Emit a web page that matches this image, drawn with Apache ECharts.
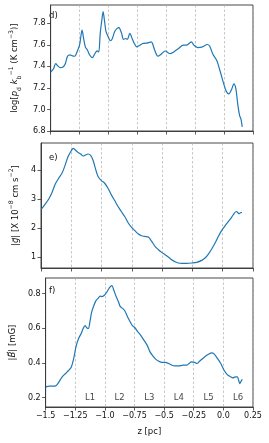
<!DOCTYPE html>
<html><head><meta charset="utf-8">
<script src="https://cdn.jsdelivr.net/npm/echarts@6/dist/echarts.min.js"></script>
<style>html,body{margin:0;padding:0;background:#fff}#c{width:269px;height:443px}</style>
</head><body><div id="c"></div>
<script>
// ---- data ----
const zP = [-1.5,-1.475,-1.456,-1.437,-1.415,-1.393,-1.373,-1.354,-1.332,-1.31,-1.291,-1.272,-1.25,-1.239,-1.228,-1.217,-1.2,-1.181,-1.161,-1.139,-1.117,-1.098,-1.084,-1.071,-1.057,-1.046,-1.035,-1.021,-1.002,-0.983,-0.966,-0.947,-0.925,-0.908,-0.897,-0.886,-0.87,-0.85,-0.837,-0.815,-0.795,-0.776,-0.754,-0.727,-0.699,-0.658,-0.63,-0.619,-0.6,-0.572,-0.545,-0.509,-0.482,-0.462,-0.435,-0.394,-0.352,-0.325,-0.297,-0.283,-0.261,-0.228,-0.187,-0.146,-0.124,-0.097,-0.064,-0.036,-0.003,0.019,0.041,0.063,0.085,0.102,0.118,0.135,0.146,0.157];
const logP = [7.347,7.378,7.425,7.403,7.388,7.394,7.425,7.494,7.506,7.497,7.494,7.534,7.597,7.675,7.738,7.675,7.581,7.55,7.503,7.481,7.519,7.544,7.534,7.706,7.831,7.909,7.831,7.722,7.675,7.638,7.659,7.722,7.753,7.759,7.738,7.706,7.65,7.659,7.65,7.706,7.659,7.613,7.581,7.597,7.613,7.619,7.628,7.612,7.55,7.494,7.512,7.543,7.525,7.519,7.534,7.566,7.597,7.597,7.618,7.628,7.597,7.575,7.581,7.603,7.587,7.512,7.456,7.362,7.238,7.168,7.144,7.181,7.238,7.191,7.05,6.94,6.91,6.838];

const zG = [-1.497,-1.47,-1.437,-1.409,-1.382,-1.354,-1.327,-1.305,-1.277,-1.25,-1.233,-1.217,-1.195,-1.172,-1.153,-1.134,-1.112,-1.09,-1.071,-1.051,-1.029,-1.002,-0.974,-0.947,-0.919,-0.892,-0.864,-0.837,-0.809,-0.782,-0.754,-0.727,-0.699,-0.671,-0.644,-0.614,-0.586,-0.559,-0.531,-0.504,-0.476,-0.449,-0.421,-0.394,-0.366,-0.338,-0.297,-0.256,-0.215,-0.173,-0.146,-0.118,-0.091,-0.063,-0.036,-0.008,0.019,0.047,0.074,0.096,0.113,0.124,0.135,0.151,0.159];
const gMag = [2.648,2.797,2.992,3.221,3.519,3.714,3.885,4.115,4.458,4.664,4.745,4.687,4.607,4.55,4.481,4.515,4.55,4.504,4.344,4.057,3.771,3.633,3.542,3.37,3.141,2.946,2.74,2.568,2.396,2.19,2.03,1.915,1.801,1.732,1.709,1.686,1.537,1.365,1.251,1.159,1.079,1.0,0.907,0.838,0.793,0.781,0.781,0.793,0.816,0.884,0.965,1.102,1.274,1.48,1.709,1.915,2.076,2.225,2.373,2.511,2.568,2.534,2.488,2.534,2.53];

const zB = [-1.497,-1.47,-1.442,-1.415,-1.387,-1.36,-1.332,-1.305,-1.283,-1.263,-1.244,-1.222,-1.2,-1.183,-1.167,-1.153,-1.139,-1.126,-1.112,-1.093,-1.076,-1.057,-1.04,-1.024,-1.002,-0.98,-0.961,-0.941,-0.925,-0.905,-0.886,-0.87,-0.85,-0.831,-0.809,-0.787,-0.768,-0.746,-0.727,-0.699,-0.671,-0.644,-0.619,-0.6,-0.572,-0.545,-0.518,-0.49,-0.462,-0.435,-0.407,-0.38,-0.338,-0.311,-0.289,-0.27,-0.242,-0.223,-0.201,-0.173,-0.146,-0.118,-0.102,-0.077,-0.05,-0.022,0.006,0.033,0.061,0.08,0.102,0.118,0.129,0.138,0.149,0.159];
const bMag = [0.262,0.266,0.266,0.268,0.291,0.32,0.339,0.358,0.377,0.426,0.493,0.541,0.57,0.599,0.615,0.603,0.599,0.638,0.692,0.731,0.758,0.773,0.785,0.783,0.792,0.812,0.835,0.846,0.821,0.783,0.754,0.725,0.715,0.7,0.667,0.638,0.615,0.603,0.584,0.561,0.532,0.503,0.464,0.445,0.422,0.41,0.403,0.403,0.397,0.387,0.383,0.383,0.387,0.387,0.397,0.406,0.403,0.397,0.41,0.426,0.441,0.453,0.458,0.451,0.426,0.397,0.358,0.333,0.32,0.314,0.32,0.32,0.3,0.281,0.294,0.306];

const xTicks = [-1.5,-1.25,-1.0,-0.75,-0.5,-0.25,0.0,0.25];
const xTickLabels = ['\u22121.5','\u22121.25','\u22121.0','\u22120.75','\u22120.5','\u22120.25','0.0','0.25'];
const yTicksP = [6.8,7.0,7.2,7.4,7.6,7.8];
const yTicksG = [1,2,3,4];
const yTicksB = [0.2,0.4,0.6,0.8];
const regionZ = [-1.125,-0.875,-0.625,-0.375,-0.125,0.125];
const regionNames = ['L1','L2','L3','L4','L5','L6'];
const regionY = 0.2;
const panelNames = ['d)','e)','f)'];

// ---- chart ----
const FONT = 'DejaVu Sans';
const AX = '#333';
const LINE = '#1f77b4';
const grids = [
  {left:41, right:16, top:5, height:126},
  {left:41, right:16, top:143, height:125},
  {left:41, right:16, top:278, height:129}
].map(g => Object.assign(g, {show:true, borderColor:AX, borderWidth:0.9, backgroundColor:'transparent'}));

function xAxis(i){
  return {
    type:'value', gridIndex:i, min:-1.5, max:0.25, interval:0.25,
    axisLine:{show:true, onZero:false, lineStyle:{color:AX, width:0.9}},
    axisTick:{show:true, length:3.5, lineStyle:{color:AX, width:0.8}},
    axisLabel:{show:i===2, margin:5, fontSize:8, color:'#111', fontFamily:FONT,
      formatter:v=>{const k=xTicks.findIndex(t=>Math.abs(t-v)<1e-6);return k>=0?xTickLabels[k]:'';},
      showMinLabel:true, showMaxLabel:true},
    splitLine:{show:true, lineStyle:{color:'#b0b0b0', type:[2.5,2], width:0.7}},
    name: i===2 ? 'z [pc]' : '', nameLocation:'middle', nameGap:20,
    nameTextStyle:{fontSize:8.5, color:'#111', fontFamily:FONT}
  };
}
const rich = {
  t:{fontSize:8.5, fontFamily:FONT, color:'#111', lineHeight:14, verticalAlign:'middle'},
  i:{fontSize:8.5, fontFamily:FONT, fontStyle:'italic', color:'#111', lineHeight:14, verticalAlign:'middle'},
  sub:{fontSize:6.2, fontFamily:FONT, color:'#111', lineHeight:14, verticalAlign:'bottom'},
  sup:{fontSize:6.2, fontFamily:FONT, color:'#111', lineHeight:14, verticalAlign:'top'}
};
function yAxis(i, min, max, ticks, fmt, name, gap){
  return {
    type:'value', gridIndex:i, min:min, max:max,
    axisLine:{show:true, onZero:false, lineStyle:{color:AX, width:0.9}},
    axisTick:{show:true, length:3.5, customValues:ticks, lineStyle:{color:AX, width:0.8}},
    axisLabel:{show:true, margin:5, fontSize:8, color:'#111', fontFamily:FONT, customValues:ticks, formatter:fmt},
    splitLine:{show:false},
    name:name, nameLocation:'middle', nameGap:gap, nameRotate:90,
    nameTextStyle:{fontSize:8.5, color:'#111', fontFamily:FONT, rich:rich}
  };
}
const option = {
  animation:false,
  backgroundColor:'#fff',
  grid: grids,
  xAxis:[xAxis(0), xAxis(1), xAxis(2)],
  yAxis:[
    yAxis(0, 6.8, 7.97, yTicksP, v=>v.toFixed(1),
      '{t|log[}{i|p}{sub|d}{t| }{i|k}{sub|b}{sup|\u22121}{t| (K cm}{sup|\u22123}{t|)]}', 23),
    yAxis(1, 0.62, 4.93, yTicksG, v=>String(Math.round(v)),
      '{t||}{i|g\u20d7}{t|| [X 10}{sup|\u22128}{t| cm s}{sup|\u22122}{t|]}', 13),
    yAxis(2, 0.146, 0.89, yTicksB, v=>v.toFixed(1),
      '{t||}{i|B\u20d7}{t|| [mG]}', 21)
  ],
  graphic: panelNames.map((n,k)=>({type:'text', left:49, top:[11,153,286][k],
    style:{text:n, fontSize:8.5, fontFamily:FONT, fill:'#111'}})),
  series:[
    {type:'line', xAxisIndex:0, yAxisIndex:0, data:zP.map((z,k)=>[z,logP[k]]), showSymbol:false, smooth:0.3, lineStyle:{color:LINE,width:1.2}},
    {type:'line', xAxisIndex:1, yAxisIndex:1, data:zG.map((z,k)=>[z,gMag[k]]), showSymbol:false, smooth:0.3, lineStyle:{color:LINE,width:1.2}},
    {type:'line', xAxisIndex:2, yAxisIndex:2, data:zB.map((z,k)=>[z,bMag[k]]), showSymbol:false, smooth:0.3, lineStyle:{color:LINE,width:1.2}},
    {type:'scatter', xAxisIndex:2, yAxisIndex:2, symbolSize:0, silent:true,
      data: regionZ.map((z,k)=>({value:[z,regionY], name:regionNames[k]})),
      label:{show:true, position:'inside', formatter:p=>p.name, fontSize:8.5, fontFamily:FONT, color:'#111'}}
  ]
};
const chart = echarts.init(document.getElementById('c'), null, {renderer:'canvas'});
chart.setOption(option);
</script>
</body></html>
